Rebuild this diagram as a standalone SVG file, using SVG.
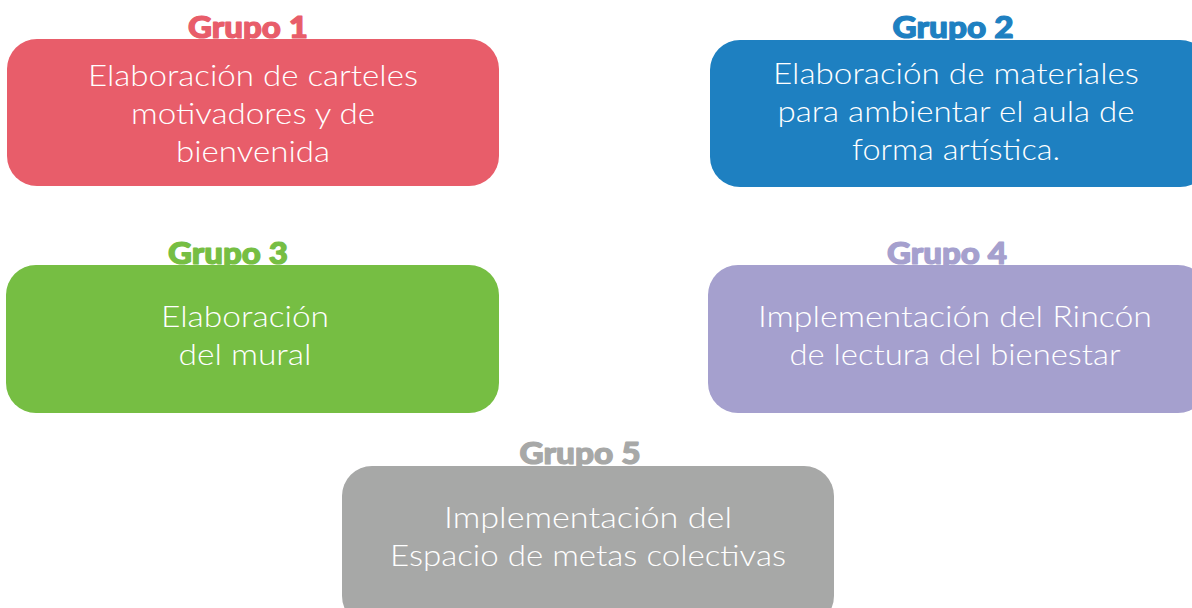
<svg xmlns="http://www.w3.org/2000/svg" width="1192" height="608" viewBox="0 0 1192 608">
<style>
.hd{font-family:Lato,"Noto Sans","Liberation Sans",sans-serif;font-weight:900;font-size:30px;text-anchor:middle;stroke-width:1.2px;stroke-linejoin:round}
.bd{font-family:Lato,"Noto Sans","Liberation Sans",sans-serif;font-weight:300;font-size:29px;fill:#ffffff;text-anchor:middle}
</style>
<rect width="1192" height="608" fill="#ffffff"/>
<g id="grupo1">
<text class="hd" x="248" y="38" fill="#E85D6A" stroke="#E85D6A" textLength="120" lengthAdjust="spacingAndGlyphs">Grupo 1</text>
<rect x="7" y="39" width="492" height="147" rx="30" fill="#E85D6A"/>
<text class="bd" x="253" y="86" textLength="330" lengthAdjust="spacingAndGlyphs">Elaboración de carteles</text>
<text class="bd" x="253" y="124" textLength="244" lengthAdjust="spacingAndGlyphs">motivadores y de</text>
<text class="bd" x="253" y="162" textLength="154" lengthAdjust="spacingAndGlyphs">bienvenida</text>
</g>
<g id="grupo2">
<text class="hd" x="953" y="38" fill="#1E80C1" stroke="#1E80C1" textLength="121" lengthAdjust="spacingAndGlyphs">Grupo 2</text>
<rect x="710" y="40" width="500" height="147" rx="30" fill="#1E80C1"/>
<text class="bd" x="956" y="84" textLength="366" lengthAdjust="spacingAndGlyphs">Elaboración de materiales</text>
<text class="bd" x="956" y="122" textLength="357" lengthAdjust="spacingAndGlyphs">para ambientar el aula de</text>
<text class="bd" x="956" y="160" textLength="208" lengthAdjust="spacingAndGlyphs">forma artística.</text>
</g>
<g id="grupo3">
<text class="hd" x="228" y="264" fill="#76BE43" stroke="#76BE43" textLength="120" lengthAdjust="spacingAndGlyphs">Grupo 3</text>
<rect x="6" y="265" width="493" height="148" rx="30" fill="#76BE43"/>
<text class="bd" x="245" y="327" textLength="168" lengthAdjust="spacingAndGlyphs">Elaboración</text>
<text class="bd" x="245" y="365" textLength="133" lengthAdjust="spacingAndGlyphs">del mural</text>
</g>
<g id="grupo4">
<text class="hd" x="947" y="264" fill="#A5A0CE" stroke="#A5A0CE" textLength="120" lengthAdjust="spacingAndGlyphs">Grupo 4</text>
<rect x="708" y="265" width="500" height="148" rx="30" fill="#A5A0CE"/>
<text class="bd" x="955" y="327" textLength="394" lengthAdjust="spacingAndGlyphs">Implementación del Rincón</text>
<text class="bd" x="955" y="365" textLength="331" lengthAdjust="spacingAndGlyphs">de lectura del bienestar</text>
</g>
<g id="grupo5">
<text class="hd" x="580" y="464" fill="#A7A8A7" stroke="#A7A8A7" textLength="121" lengthAdjust="spacingAndGlyphs">Grupo 5</text>
<rect x="342" y="466" width="492" height="160" rx="30" fill="#A7A8A7"/>
<text class="bd" x="588" y="528" textLength="288" lengthAdjust="spacingAndGlyphs">Implementación del</text>
<text class="bd" x="588" y="566" textLength="396" lengthAdjust="spacingAndGlyphs">Espacio de metas colectivas</text>
</g>
<g id="connectors"></g>
</svg>
